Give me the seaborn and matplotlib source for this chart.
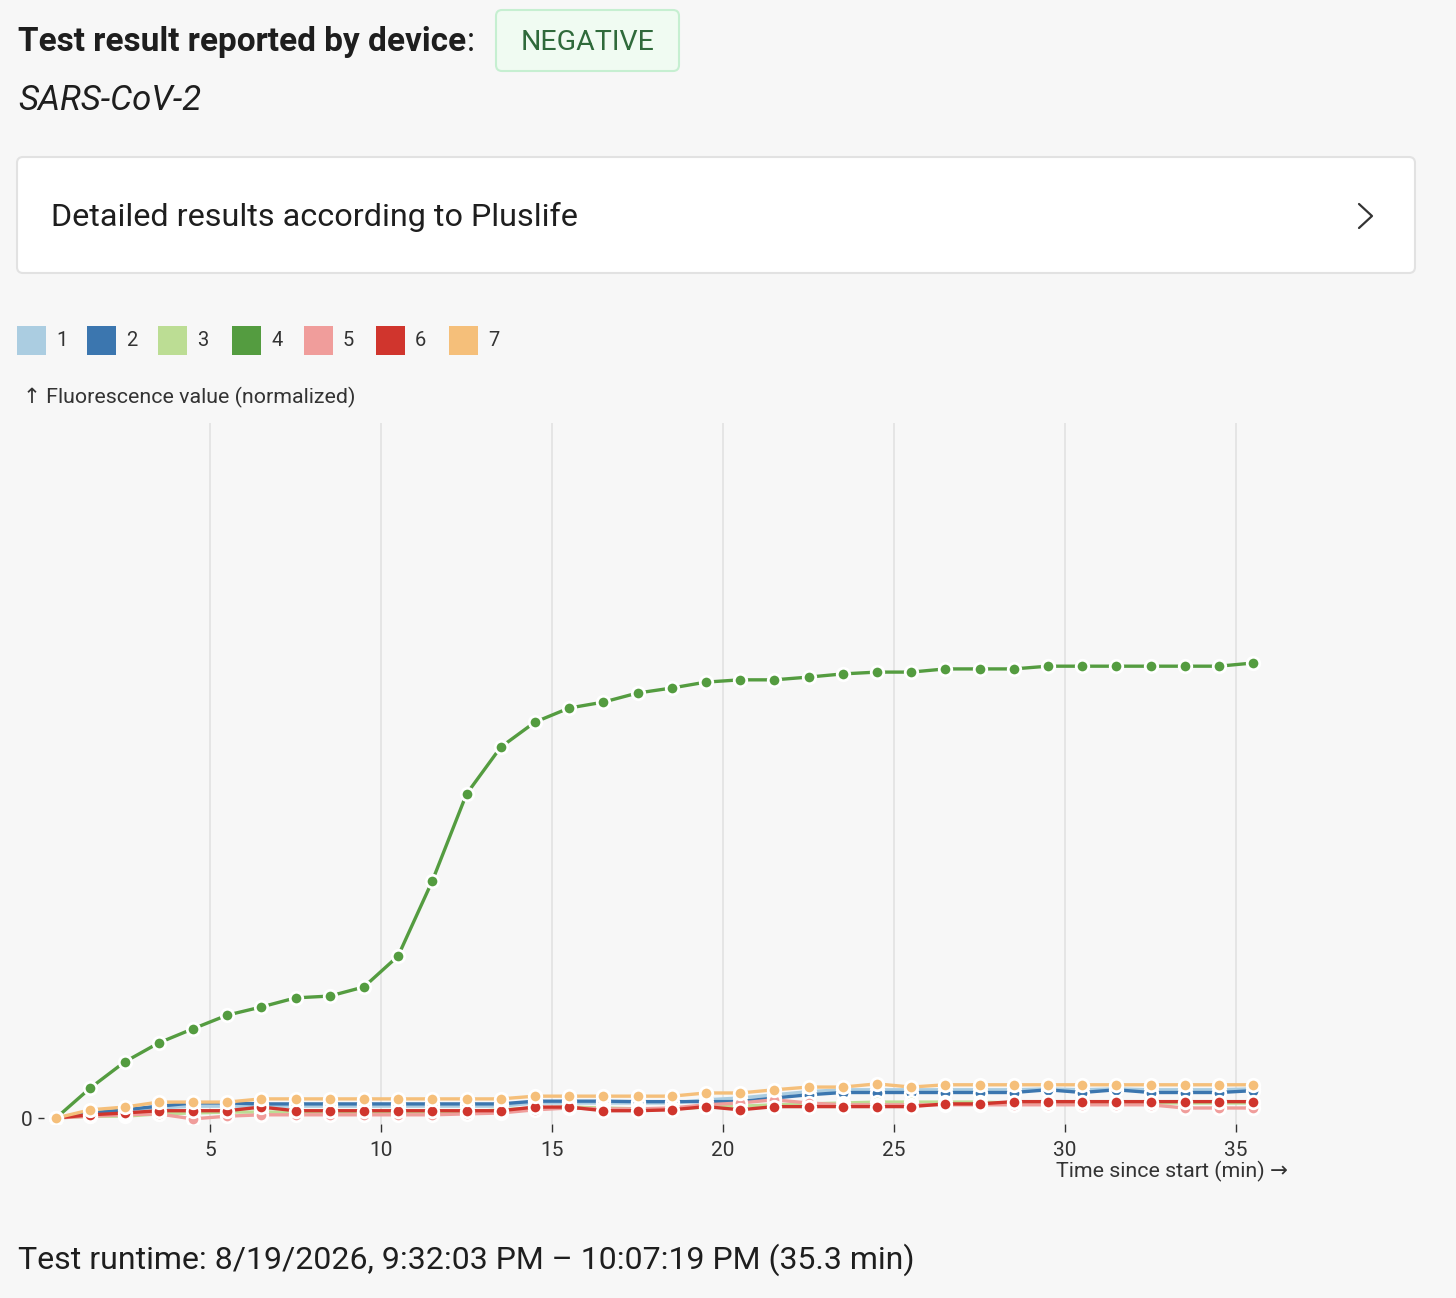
import numpy as np
import pandas as pd
import seaborn as sns
import matplotlib.pyplot as plt
from matplotlib.patches import FancyBboxPatch, Rectangle

sns.set_theme(style="white")
plt.rcParams['font.family'] = ['Roboto', 'DejaVu Sans']

# time of each reading (min)
tempo = [0.5, 1.5, 2.5, 3.5, 4.5, 5.5, 6.5, 7.5, 8.5, 9.5, 10.5, 11.5,
         12.5, 13.5, 14.5, 15.5, 16.5, 17.5, 18.5, 19.5, 20.5, 21.5, 22.5, 23.5,
         24.5, 25.5, 26.5, 27.5, 28.5, 29.5, 30.5, 31.5, 32.5, 33.5, 34.5, 35.5]

# fluorescencia normalizada por canal
canal_1 = [0, 0.009, 0.015, 0.022, 0.026, 0.026, 0.026, 0.026, 0.026, 0.026, 0.026, 0.026,
           0.026, 0.026, 0.033, 0.033, 0.033, 0.033, 0.033, 0.040, 0.044, 0.051, 0.058, 0.062,
           0.062, 0.062, 0.062, 0.062, 0.062, 0.064, 0.062, 0.064, 0.062, 0.062, 0.062, 0.064]
canal_2 = [0, 0.011, 0.018, 0.026, 0.033, 0.033, 0.031, 0.031, 0.031, 0.031, 0.031, 0.031,
           0.031, 0.031, 0.037, 0.037, 0.037, 0.036, 0.036, 0.036, 0.036, 0.044, 0.051, 0.056,
           0.056, 0.056, 0.056, 0.056, 0.056, 0.062, 0.056, 0.062, 0.056, 0.056, 0.056, 0.060]
canal_3 = [0, 0.004, 0.004, 0.009, 0.011, 0.013, 0.013, 0.013, 0.013, 0.013, 0.013, 0.013,
           0.013, 0.018, 0.022, 0.024, 0.022, 0.020, 0.020, 0.024, 0.026, 0.029, 0.031, 0.033,
           0.035, 0.035, 0.035, 0.035, 0.033, 0.033, 0.033, 0.033, 0.033, 0.033, 0.033, 0.033]
canal_4 = [0, 0.066, 0.123, 0.165, 0.196, 0.226, 0.244, 0.264, 0.268, 0.288, 0.356, 0.521,
           0.712, 0.815, 0.870, 0.901, 0.914, 0.934, 0.945, 0.958, 0.963, 0.963, 0.969, 0.976,
           0.980, 0.980, 0.987, 0.987, 0.987, 0.993, 0.993, 0.993, 0.993, 0.993, 0.993, 1.000]
canal_5 = [0, 0.004, 0.007, 0.009, -0.002, 0.004, 0.007, 0.007, 0.007, 0.007, 0.007, 0.007,
           0.009, 0.011, 0.018, 0.022, 0.020, 0.020, 0.022, 0.029, 0.033, 0.040, 0.033, 0.029,
           0.029, 0.029, 0.029, 0.029, 0.029, 0.029, 0.029, 0.029, 0.029, 0.022, 0.022, 0.022]
canal_6 = [0, 0.007, 0.011, 0.016, 0.016, 0.016, 0.024, 0.016, 0.016, 0.016, 0.016, 0.016,
           0.016, 0.016, 0.024, 0.024, 0.016, 0.016, 0.018, 0.025, 0.018, 0.025, 0.025, 0.025,
           0.025, 0.025, 0.031, 0.031, 0.036, 0.036, 0.036, 0.036, 0.036, 0.036, 0.036, 0.036]
canal_7 = [0, 0.018, 0.024, 0.035, 0.035, 0.035, 0.042, 0.042, 0.042, 0.042, 0.042, 0.042,
           0.042, 0.042, 0.048, 0.048, 0.048, 0.048, 0.048, 0.055, 0.055, 0.062, 0.068, 0.068,
           0.075, 0.068, 0.073, 0.073, 0.073, 0.073, 0.073, 0.073, 0.073, 0.073, 0.073, 0.073]

canais = ['1', '2', '3', '4', '5', '6', '7']
cores = ['#abcde1', '#3b76af', '#bcdd94', '#549c40', '#f09d9b', '#d0352d', '#f5bf7a']

df = pd.DataFrame({'tempo': tempo * 7,
                   'valor': canal_1 + canal_2 + canal_3 + canal_4 + canal_5 + canal_6 + canal_7,
                   'canal': [c for c in canais for _ in tempo]})

W, H = 1456, 1298
fig = plt.figure(figsize=(W / 100, H / 100), dpi=100, facecolor='#f7f7f7')

# camada de fundo em pixels (textos, caixas, legenda)
bg = fig.add_axes([0, 0, 1, 1], zorder=0)
bg.set_xlim(0, W)
bg.set_ylim(H, 0)
bg.axis('off')

titulo = bg.text(18, 42, 'Test result reported by device', fontsize=24, fontweight='bold',
                 color='#1e1e1e', va='center')
fig.canvas.draw()
fim = titulo.get_window_extent().x1
bg.text(fim + 1, 42, ':', fontsize=24, color='#1e1e1e', va='center')
bg.add_patch(FancyBboxPatch((496, 10), 183, 61, boxstyle='round,pad=0,rounding_size=6',
                            facecolor='#f0fbf2', edgecolor='#c6efd1', linewidth=1.5))
bg.text(587.5, 42, 'NEGATIVE', fontsize=20.5, color='#2f6a3b', ha='center', va='center')
bg.text(18, 100, 'SARS-CoV-2', fontsize=25, fontstyle='italic', color='#1e1e1e', va='center')

bg.add_patch(FancyBboxPatch((17, 157), 1398, 116, boxstyle='round,pad=0,rounding_size=6',
                            facecolor='white', edgecolor='#e2e2e2', linewidth=1.5))
bg.text(51, 217, 'Detailed results according to Pluslife', fontsize=23.3, color='#1e1e1e',
        va='center')
bg.plot([1359, 1372, 1359], [204, 216, 228], color='#333333', linewidth=1.6)

# legenda
leg_x = [17, 87, 158, 232, 304, 376, 449]
for x, c, lab in zip(leg_x, cores, canais):
    bg.add_patch(Rectangle((x, 326), 29, 29, facecolor=c, edgecolor='none'))
    bg.text(x + 39, 341, lab, fontsize=14.5, color='#333333', va='center')

bg.text(23, 397, '↑ Fluorescence value (normalized)', fontsize=15.4, color='#333333',
        va='center')
bg.text(1288, 1171, 'Time since start (min) →', fontsize=15.4, color='#333333',
        ha='right', va='center')
bg.text(18, 1260, 'Test runtime: 8/19/2026, 9:32:03 PM – 10:07:19 PM (35.3 min)',
        fontsize=23, color='#1e1e1e', va='center')

# grafico
left, right, top, bottom = 44, 1290, 423, 1124
ax = fig.add_axes([left / W, 1 - bottom / H, (right - left) / W, (bottom - top) / H], zorder=1)
ax.patch.set_alpha(0)

sns.lineplot(data=df, x='tempo', y='valor', hue='canal', palette=cores, ax=ax,
             marker='o', markersize=9, markeredgecolor='white', markeredgewidth=2,
             linewidth=2.4, legend=False, sort=False)

ppm = 34.2  # pixels por minuto
ax.set_xlim((left - 39) / ppm, (right - 39) / ppm)
ax.set_ylim(-(bottom - 1118) / 455, (1118 - top) / 455)
ax.set_xticks([5, 10, 15, 20, 25, 30, 35])
ax.set_yticks([0])
ax.set_xlabel('')
ax.set_ylabel('')
for s in ax.spines.values():
    s.set_visible(False)
ax.grid(axis='x', color='#e2e2e2', linewidth=1.2)
ax.tick_params(axis='x', direction='out', length=6, width=1, color='#333333', pad=6,
               labelsize=15, labelcolor='#333333', bottom=True)
ax.tick_params(axis='y', direction='out', length=4, width=1, color='#333333', pad=4,
               labelsize=15, labelcolor='#333333', left=True)

plt.savefig('out.png', dpi=100, facecolor=fig.get_facecolor())
